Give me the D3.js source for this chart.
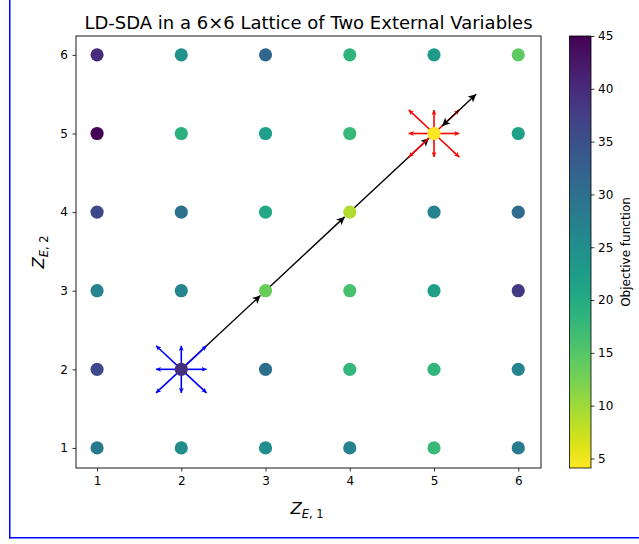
<!DOCTYPE html>
<html>
<head>
<meta charset="utf-8">
<script src="https://cdn.jsdelivr.net/npm/d3@7"></script>
<style>
  html, body { margin: 0; padding: 0; background: #fff; }
  svg { display: block; }
  text { font-family: "DejaVu Sans", sans-serif; fill: #000; }
</style>
</head>
<body>
<svg id="chart" width="639" height="544"></svg>
<script>
// ---------- data ----------
const z1Values = [1, 2, 3, 4, 5, 6];
const z2Values = [1, 2, 3, 4, 5, 6];
// objective function value per lattice point, one array per Z_E,2 row (Z_E,1 = 1..6)
const objRow1 = [28.5, 25.0, 25.0, 27.0, 17.5, 28.0];
const objRow2 = [36.0, 39.5, 30.0, 18.0, 18.0, 26.6];
const objRow3 = [27.0, 26.6, 13.5, 16.0, 22.0, 38.0];
const objRow4 = [36.0, 29.9, 20.5, 9.0, 27.0, 31.0];
const objRow5 = [45.0, 18.8, 22.0, 17.6, 4.1, 21.7];
const objRow6 = [40.0, 24.5, 31.5, 18.4, 23.0, 14.3];
const objRows = [objRow1, objRow2, objRow3, objRow4, objRow5, objRow6];

// LD-SDA path of the search
const pathZ1 = [2, 3, 4, 5, 5.5];
const pathZ2 = [2, 3, 4, 5, 5.5];
// neighbourhood directions (infinity-norm neighbourhood)
const dirZ1 = [1, 1, 0, -1, -1, -1, 0, 1];
const dirZ2 = [0, 1, 1, 1, 0, -1, -1, -1];
const dirLength = 0.3;
const startPoint = [2, 2];
const endPoint = [5, 5];

const xTicks = [1, 2, 3, 4, 5, 6];
const yTicks = [1, 2, 3, 4, 5, 6];
const cbTicks = [5, 10, 15, 20, 25, 30, 35, 40, 45];
const cbMin = 4.1, cbMax = 45;

// ---------- layout ----------
const svg = d3.select("#chart");
const L = 76, R = 541, T = 36, B = 468;
const x = d3.scaleLinear().domain([0.75, 6.27]).range([L, R]);
const y = d3.scaleLinear().domain([0.745, 6.24]).range([B, T]);
const color = d3.scaleSequential(t => d3.interpolateViridis(1 - t)).domain([cbMin, cbMax]);

// blue page frame
svg.append("rect").attr("x", 9).attr("y", 0).attr("width", 1.5).attr("height", 538.5).attr("fill", "#0000ff");
svg.append("rect").attr("x", 9).attr("y", 537).attr("width", 630).attr("height", 1.5).attr("fill", "#0000ff");

// title
svg.append("text").attr("x", (L + R) / 2).attr("y", 29).attr("text-anchor", "middle")
  .style("font-size", "18px").text("LD-SDA in a 6×6 Lattice of Two External Variables");

// axes
const xAxis = d3.axisBottom(x).tickValues(xTicks).tickSize(3.5).tickPadding(5).tickFormat(d3.format("d"));
const yAxis = d3.axisLeft(y).tickValues(yTicks).tickSize(3.5).tickPadding(4.5).tickFormat(d3.format("d"));
const gx = svg.append("g").attr("transform", `translate(0,${B})`).call(xAxis);
const gy = svg.append("g").attr("transform", `translate(${L},0)`).call(yAxis);
[gx, gy].forEach(g => {
  g.select(".domain").remove();
  g.selectAll("text").style("font-size", "12px").style("font-family", "DejaVu Sans");
  g.selectAll("line").attr("stroke", "#000").attr("stroke-width", 0.8);
});

// axis labels with math-style subscripts
function mathLabel(parent, xPos, yPos, sub, rotate) {
  const t = parent.append("text").attr("text-anchor", "middle")
    .attr("transform", `translate(${xPos},${yPos})` + (rotate ? " rotate(-90)" : ""))
    .style("font-size", "16.5px");
  t.append("tspan").style("font-style", "italic").text("Z");
  t.append("tspan").attr("dy", 3.5).style("font-size", "11.5px").style("font-style", "italic").text("E");
  t.append("tspan").style("font-size", "11.5px").text(", " + sub);
}
mathLabel(svg, 307, 514, "1", false);
mathLabel(svg, 44, 252, "2", true);

// defs for arrowheads
const defs = svg.append("defs");
function marker(id, col, w, h) {
  defs.append("marker").attr("id", id).attr("viewBox", "0 0 10 10")
    .attr("refX", 10).attr("refY", 5).attr("markerUnits", "userSpaceOnUse")
    .attr("markerWidth", w).attr("markerHeight", h).attr("orient", "auto-start-reverse")
    .append("path").attr("d", "M0,0 L10,5 L0,10 L2.5,5 Z").attr("fill", col);
}
marker("headBlack", "#000", 9, 8);
marker("headRed", "#ff0000", 5, 5);
marker("headBlue", "#0000ff", 5, 5);

const plot = svg.append("g");

// black path arrows (drawn first, shortened at the arriving dot)
function shortened(x1, y1, x2, y2, s1, s2) {
  const dx = x2 - x1, dy = y2 - y1, len = Math.hypot(dx, dy);
  const ux = dx / len, uy = dy / len;
  return [x1 + ux * s1, y1 + uy * s1, x2 - ux * s2, y2 - uy * s2];
}
for (let i = 0; i < pathZ1.length - 2; i++) {
  const [a, b, c, d] = shortened(x(pathZ1[i]), y(pathZ2[i]), x(pathZ1[i + 1]), y(pathZ2[i + 1]), 0, 7);
  plot.append("line").attr("x1", a).attr("y1", b).attr("x2", c).attr("y2", d)
    .attr("stroke", "#000").attr("stroke-width", 1.4).attr("marker-end", "url(#headBlack)");
}

// neighbourhood arrows around start and end points
function star(center, col, markerId) {
  dirZ1.forEach((dx, k) => {
    const dy = dirZ2[k];
    plot.append("line")
      .attr("x1", x(center[0])).attr("y1", y(center[1]))
      .attr("x2", x(center[0] + dx * dirLength)).attr("y2", y(center[1] + dy * dirLength))
      .attr("stroke", col).attr("stroke-width", 1.6).attr("marker-end", `url(#${markerId})`);
  });
}
star(startPoint, "#0000ff", "headBlue");
star(endPoint, "#ff0000", "headRed");

// final double-headed black arrow beyond the optimum
{
  const n = pathZ1.length;
  const [a, b, c, d] = shortened(x(pathZ1[n - 2]), y(pathZ2[n - 2]), x(pathZ1[n - 1]), y(pathZ2[n - 1]), 11, 0);
  plot.append("line").attr("x1", a).attr("y1", b).attr("x2", c).attr("y2", d)
    .attr("stroke", "#000").attr("stroke-width", 1.4)
    .attr("marker-end", "url(#headBlack)").attr("marker-start", "url(#headBlack)");
}

// lattice points
const points = [];
z2Values.forEach((z2, r) => z1Values.forEach((z1, c) => points.push({ z1, z2, v: objRows[r][c] })));
plot.selectAll("circle.pt").data(points).join("circle").attr("class", "pt")
  .attr("cx", d => x(d.z1)).attr("cy", d => y(d.z2)).attr("r", 6.6)
  .attr("fill", d => color(d.v));

// plot frame
svg.append("rect").attr("x", L).attr("y", T).attr("width", R - L).attr("height", B - T)
  .attr("fill", "none").attr("stroke", "#000").attr("stroke-width", 0.9);

// ---------- colorbar ----------
const cbL = 569.5, cbR = 591;
const cy = d3.scaleLinear().domain([cbMin, cbMax]).range([B, T]);
const grad = defs.append("linearGradient").attr("id", "cbgrad").attr("x1", 0).attr("x2", 0).attr("y1", 1).attr("y2", 0);
d3.range(0, 1.0001, 0.05).forEach(t => {
  grad.append("stop").attr("offset", t).attr("stop-color", color(cbMin + t * (cbMax - cbMin)));
});
svg.append("rect").attr("x", cbL).attr("y", T).attr("width", cbR - cbL).attr("height", B - T)
  .attr("fill", "url(#cbgrad)").attr("stroke", "#000").attr("stroke-width", 0.8);
const cbAxis = d3.axisRight(cy).tickValues(cbTicks).tickSize(3.5).tickPadding(3.5).tickFormat(d3.format("d"));
const gcb = svg.append("g").attr("transform", `translate(${cbR},0)`).call(cbAxis);
gcb.select(".domain").remove();
gcb.selectAll("text").style("font-size", "12px").style("font-family", "DejaVu Sans");
gcb.selectAll("line").attr("stroke", "#000").attr("stroke-width", 0.8);
svg.append("text").attr("transform", `translate(630,252) rotate(-90)`).attr("text-anchor", "middle")
  .style("font-size", "12px").text("Objective function");
</script>
</body>
</html>
